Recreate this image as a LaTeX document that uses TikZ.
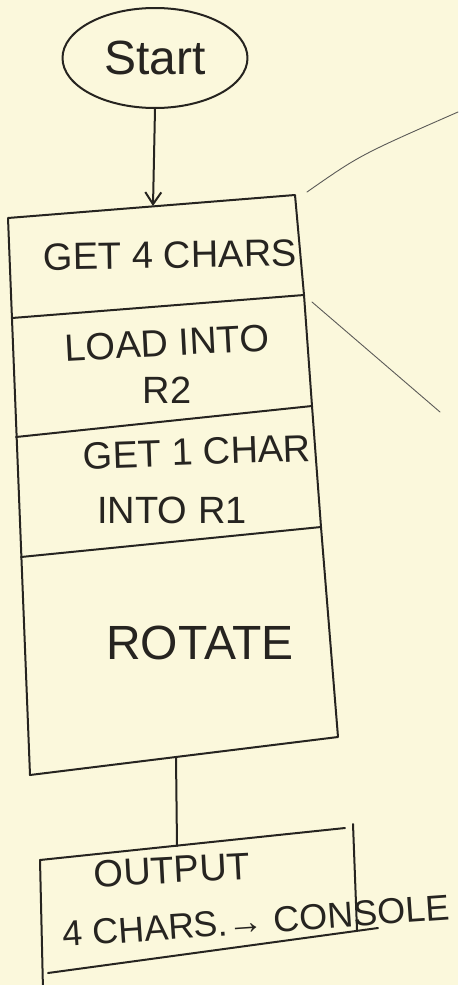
\documentclass[tikz,border=0pt]{standalone}
\usepackage{fontspec}
\setmainfont{Liberation Sans}
\usetikzlibrary{shapes.geometric,arrows.meta}
\definecolor{paper}{HTML}{FBF8DC}
\definecolor{ink}{HTML}{262420}
\begin{document}
\begin{tikzpicture}[x=1pt,y=-1pt,
  inkline/.style={draw=ink,line width=2pt,line cap=round,line join=round},
  thinline/.style={draw=ink!75,line width=0.9pt,line cap=round},
  txt/.style={text=ink,inner sep=0pt,font=\fontsize{38}{42}\selectfont},
  bigtxt/.style={txt,font=\fontsize{48}{50}\selectfont},
]
\fill[paper] (0,0) rectangle (458,985);
\useasboundingbox (0,0) rectangle (458,985);

% start terminal
\node[inkline, ellipse, minimum width=185pt, minimum height=100pt, bigtxt] (start) at (155,58) {Start};

% stacked process box
\coordinate (tl) at (8,218);
\coordinate (tr) at (295,195);
\coordinate (d1l) at (12,318);
\coordinate (d1r) at (304,295);
\coordinate (d2l) at (16,437);
\coordinate (d2r) at (312,406);
\coordinate (d3l) at (21,557);
\coordinate (d3r) at (321,527);
\coordinate (bl) at (30,775);
\coordinate (br) at (338,737);
\draw[inkline] (tl) -- (tr) -- (d1r) -- (d2r) -- (d3r) -- (br) -- (bl) -- cycle;
\draw[inkline] (d1l) -- (d1r);
\draw[inkline] (d2l) -- (d2r);
\draw[inkline] (d3l) -- (d3r);

\node[txt, rotate=1] (t1) at (170,255) {GET 4 CHARS};
\node[txt, rotate=3] (t2a) at (167,343) {LOAD INTO};
\node[txt] (t2b) at (167,390) {R2};
\node[txt, rotate=2] (t3a) at (197,452) {GET 1 CHAR};
\node[txt] (t3b) at (172,510) {INTO R1};
\node[bigtxt] (t4) at (200,643) {ROTATE};

% arrow into the box
\coordinate (boxin) at (153,206);
\draw[inkline,-{Straight Barb[length=12pt,width=16pt]}] (start.south) -- (boxin);

% connector to output box
\coordinate (boxout) at (176,757);
\coordinate (outin) at (177,846);
\draw[inkline] (boxout) -- (outin);

% output box
\coordinate (otl) at (40,860);
\coordinate (otr) at (345,828);
\coordinate (orT) at (353,824);
\coordinate (orB) at (357,930);
\coordinate (obl) at (48,973);
\coordinate (obr) at (378,928);
\coordinate (olb) at (43,990);
\draw[inkline] (otl) -- (otr);
\draw[inkline] (orT) -- (orB);
\draw[inkline] (obl) -- (obr);
\draw[inkline] (otl) -- (olb);

\node[txt, rotate=3] (t5a) at (172,870) {OUTPUT};
\node[txt, rotate=4, font=\fontsize{36}{40}\selectfont] (t5b) at (256,921) {4 CHARS.→ CONSOLE};

% callout lines leaving the box
\coordinate (ca) at (307,192);
\coordinate (cae) at (458,112);
\coordinate (cb) at (312,302);
\coordinate (cbe) at (440,412);
\draw[thinline] (ca) .. controls (360,155) .. (cae);
\draw[thinline] (cb) -- (cbe);
\end{tikzpicture}
\end{document}
